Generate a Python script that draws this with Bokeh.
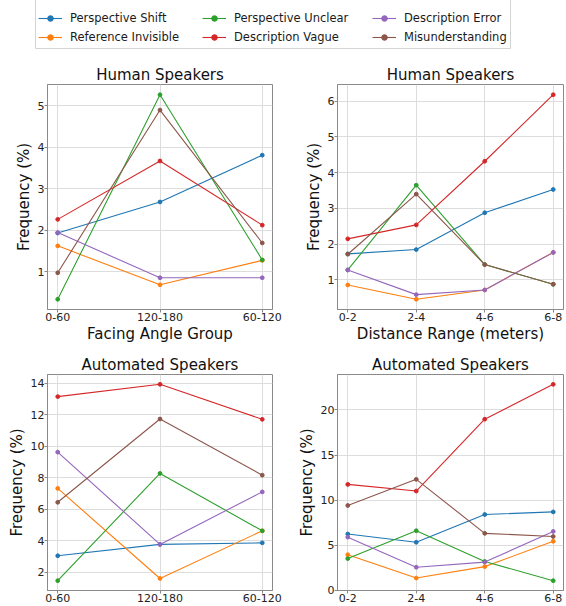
from bokeh.plotting import figure
from bokeh.layouts import column, row
from bokeh.models import Legend, LegendItem, Range1d, FixedTicker
from bokeh.embed import file_html
from bokeh.resources import INLINE

SERIES = ["Perspective Shift", "Reference Invisible", "Perspective Unclear",
          "Description Vague", "Description Error", "Misunderstanding"]
COLORS = ["#1f77b4", "#ff7f0e", "#2ca02c", "#d62728", "#9467bd", "#8c564b"]

ANGLE_GROUPS = ["0-60", "120-180", "60-120"]
DIST_RANGES = ["0-2", "2-4", "4-6", "6-8"]

# Human speakers, facing angle group
HA_SHIFT = [1.93, 2.68, 3.81]
HA_INVIS = [1.62, 0.68, 1.27]
HA_UNCLEAR = [0.33, 5.27, 1.28]
HA_VAGUE = [2.26, 3.67, 2.12]
HA_ERROR = [1.94, 0.85, 0.85]
HA_MISUND = [0.97, 4.90, 1.69]

# Human speakers, distance range
HD_SHIFT = [1.73, 1.85, 2.88, 3.53]
HD_INVIS = [0.86, 0.46, 0.72, 1.77]
HD_UNCLEAR = [1.28, 3.65, 1.43, 0.88]
HD_VAGUE = [2.15, 2.54, 4.32, 6.18]
HD_ERROR = [1.28, 0.59, 0.72, 1.77]
HD_MISUND = [1.72, 3.40, 1.43, 0.88]

# Automated speakers, facing angle group
AA_SHIFT = [3.05, 3.77, 3.87]
AA_INVIS = [7.32, 1.61, 4.63]
AA_UNCLEAR = [1.47, 8.27, 4.63]
AA_VAGUE = [13.14, 13.92, 11.70]
AA_ERROR = [9.62, 3.77, 7.10]
AA_MISUND = [6.44, 11.72, 8.16]

# Automated speakers, distance range
AD_SHIFT = [6.24, 5.32, 8.40, 8.69]
AD_INVIS = [3.94, 1.35, 2.62, 5.43]
AD_UNCLEAR = [3.51, 6.60, 3.19, 1.06]
AD_VAGUE = [11.74, 11.00, 18.97, 22.84]
AD_ERROR = [5.89, 2.55, 3.12, 6.52]
AD_MISUND = [9.40, 12.30, 6.31, 5.96]

TICKS_HA = [1, 2, 3, 4, 5]
TICKS_HD = [1, 2, 3, 4, 5, 6]
TICKS_AA = [2, 4, 6, 8, 10, 12, 14]
TICKS_AD = [0, 5, 10, 15, 20]

FONT = "DejaVu Sans"
SPINE = "#8a8a8a"
GRID = "#dddddd"
MARKER = 3.8


def panel(title, cats, series, yticks, xlabel, width, height, mbl, mbr, mbt, mbb):
    p = figure(width=width, height=height, toolbar_location=None, output_backend="svg",
               min_border_left=mbl, min_border_right=mbr,
               min_border_top=mbt, min_border_bottom=mbb)
    x = list(range(len(cats)))
    for color, vals in zip(COLORS, series):
        p.line(x, vals, line_color=color, line_width=1.1)
        p.scatter(x, vals, fill_color=color, line_color=color, size=MARKER)
    p.xaxis.ticker = FixedTicker(ticks=x)
    p.xaxis.major_label_overrides = {i: c for i, c in enumerate(cats)}
    p.yaxis.ticker = FixedTicker(ticks=yticks)
    p.title.text = title
    p.title.align = "center"
    p.title.text_font = FONT
    p.title.text_font_size = "15px"
    p.title.text_font_style = "normal"
    p.title.text_color = "#111111"
    p.title.standoff = 2
    for ax in (p.xaxis[0], p.yaxis[0]):
        ax.major_label_text_font = FONT
        ax.major_label_text_font_size = "11px"
        ax.major_label_text_color = "#222222"
        ax.axis_label_text_font = FONT
        ax.axis_label_text_font_size = "15px"
        ax.axis_label_text_font_style = "normal"
        ax.axis_label_text_color = "#111111"
        ax.axis_line_color = SPINE
        ax.major_tick_line_color = SPINE
        ax.major_tick_out = 3
        ax.major_tick_in = 0
        ax.minor_tick_out = 0
        ax.minor_tick_in = 0
        ax.major_label_standoff = 0
    p.xaxis.axis_label_standoff = 1
    p.yaxis.axis_label_standoff = 2
    p.yaxis.axis_label = "Frequency (%)"
    if xlabel:
        p.xaxis.axis_label = xlabel
    p.grid.grid_line_color = GRID
    p.grid.grid_line_width = 1
    p.outline_line_color = SPINE
    p.outline_line_width = 1
    return p


tl = panel("Human Speakers", ANGLE_GROUPS,
           [HA_SHIFT, HA_INVIS, HA_UNCLEAR, HA_VAGUE, HA_ERROR, HA_MISUND],
           TICKS_HA, "Facing Angle Group", 290, 294, 47, 18, 28, 41)
tr = panel("Human Speakers", DIST_RANGES,
           [HD_SHIFT, HD_INVIS, HD_UNCLEAR, HD_VAGUE, HD_ERROR, HD_MISUND],
           TICKS_HD, "Distance Range (meters)", 276, 294, 47, 3, 28, 41)
bl = panel("Automated Speakers", ANGLE_GROUPS,
           [AA_SHIFT, AA_INVIS, AA_UNCLEAR, AA_VAGUE, AA_ERROR, AA_MISUND],
           TICKS_AA, None, 290, 256, 47, 18, 24, 16)
br = panel("Automated Speakers", DIST_RANGES,
           [AD_SHIFT, AD_INVIS, AD_UNCLEAR, AD_VAGUE, AD_ERROR, AD_MISUND],
           TICKS_AD, None, 276, 256, 47, 3, 24, 16)

# legend strip (series drawn outside its visible range, only the legend shows)
lf = figure(width=566, height=66, x_range=Range1d(0, 1), y_range=Range1d(-2, -1),
            toolbar_location=None, output_backend="svg",
            min_border_left=35, min_border_right=56, min_border_top=0, min_border_bottom=8,
            x_axis_type=None, y_axis_type=None)
lf.grid.visible = False
lf.outline_line_color = "#d4d4d4"
items = []
for name, color, vals in zip(SERIES, COLORS,
                             [HA_SHIFT, HA_INVIS, HA_UNCLEAR, HA_VAGUE, HA_ERROR, HA_MISUND]):
    xs = list(range(len(vals)))
    rl = lf.line(xs, vals, line_color=color, line_width=1.1)
    rs = lf.scatter(xs, vals, fill_color=color, line_color=color, size=MARKER)
    items.append(LegendItem(label=name, renderers=[rl, rs]))

for k, xoff in enumerate([3, 167, 337]):
    lg = Legend(items=items[2 * k:2 * k + 2], location=(xoff, 4), orientation="vertical",
                glyph_width=24, glyph_height=14, label_height=14, label_standoff=8,
                spacing=5, padding=0, margin=0, border_line_alpha=0,
                background_fill_alpha=0, label_text_font=FONT,
                label_text_font_size="11.5px", label_text_color="#1a1a1a")
    lf.add_layout(lg)

lf.stylesheets = [":host { margin-top: -10px !important; }"]

layout = column(lf, row(tl, tr), row(bl, br))

open("out.html", "w").write(file_html(layout, INLINE))
